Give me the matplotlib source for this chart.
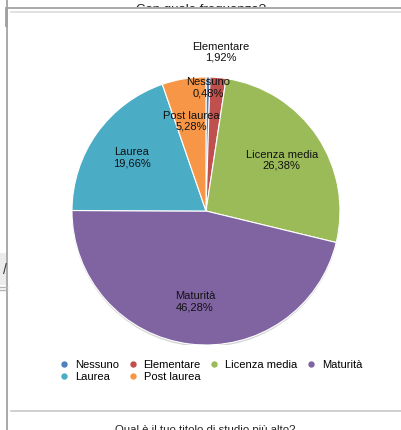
import numpy as np
import matplotlib
matplotlib.use("Agg")
import matplotlib.pyplot as plt
from matplotlib.lines import Line2D
from matplotlib.patches import Rectangle, Circle

categorie = ["Nessuno", "Elementare", "Licenza media", "Maturità", "Laurea", "Post laurea"]
percentuali = [0.48, 1.92, 26.38, 46.28, 19.66, 5.28]
colori = ["#4F81BD", "#C0504D", "#9BBB59", "#8064A2", "#4BACC6", "#F79646"]
# distanza delle etichette dal centro (frazione del raggio)
dist_etichette = [0.92, 1.19, 0.68, 0.68, 0.68, 0.68]

titolo_sopra = "Con quale frequenza?"
titolo_sotto = "Qual è il tuo titolo di studio più alto?"

plt.rcParams["font.family"] = ["Liberation Sans", "DejaVu Sans"]

W, H = 401, 430
fig = plt.figure(figsize=(W / 100, H / 100), dpi=100)
fig.patch.set_facecolor("white")

# sfondo della pagina in coordinate pixel
bg = fig.add_axes([0, 0, 1, 1])
bg.set_xlim(0, W)
bg.set_ylim(H, 0)
bg.axis("off")

bg.text(201, 12.5, titolo_sopra, ha="center", va="baseline", fontsize=9.5, color="#222222", zorder=1)
bg.add_patch(Rectangle((7, 8), W, H, facecolor="white", edgecolor="none", zorder=2))
bg.plot([7, W], [8, 8], color="#a9a9a9", lw=1.4, zorder=3)
bg.plot([11, W], [12, 12], color="#dcdcdc", lw=1.2, zorder=3)
bg.plot([7, 7], [0, H], color="#a9a9a9", lw=1.4, zorder=3)
bg.plot([6.3, 6.3], [8, 25], color="#a0a0a0", lw=2, zorder=3)
bg.plot([11, W], [411, 411], color="#c8c8c8", lw=1.2, zorder=3)
bg.text(205, 433, titolo_sotto, ha="center", va="baseline", fontsize=8.2, color="#222222", zorder=3)

# pannello laterale tagliato a sinistra
bg.add_patch(Rectangle((0, 253), 6.3, 32, facecolor="#ececec", edgecolor="none", zorder=3))
bg.text(5.2, 270, "/", ha="center", va="center", fontsize=10, color="#333333", zorder=3)
bg.plot([0, 7], [287, 287], color="#b5b5b5", lw=1, zorder=3)
bg.plot([0, 7], [290, 290], color="#b5b5b5", lw=1, zorder=3)

# grafico a torta
cx, cy, r = 206, 211, 134
ax = fig.add_axes([(cx - r) / W, (H - cy - r) / H, 2 * r / W, 2 * r / H])
ax.add_patch(Circle((0.0, -0.014), 1.0, facecolor="#d4d4d4", edgecolor="none", zorder=0))
wedges, _ = ax.pie(percentuali, colors=colori, startangle=90, counterclock=False,
                   wedgeprops=dict(edgecolor="white", linewidth=0.8))
ax.set_xlim(-1, 1)
ax.set_ylim(-1, 1)
ax.set_aspect("equal")
ax.axis("off")

for w, nome, val, d in zip(wedges, categorie, percentuali, dist_etichette):
    ang = np.deg2rad((w.theta1 + w.theta2) / 2)
    testo = f"{nome}\n{val:.2f}%".replace(".", ",")
    ax.text(d * np.cos(ang), d * np.sin(ang), testo, ha="center", va="center",
            fontsize=8, color="#111111", linespacing=1.15, zorder=5)

# legenda: ordine scelto per riempire le righe da sinistra a destra
ordine = [0, 4, 1, 5, 2, 3]
handles = [Line2D([], [], marker="o", ls="none", markersize=4.6,
                  markerfacecolor=colori[i], markeredgecolor="none") for i in ordine]
labels = [categorie[i] for i in ordine]
bg.legend(handles, labels, ncol=4, loc="center", bbox_to_anchor=(211, 371),
          bbox_transform=bg.transData, frameon=False, fontsize=8,
          handlelength=0.8, handletextpad=0.6, columnspacing=0.8,
          labelspacing=0.2, borderpad=0, borderaxespad=0)

fig.savefig("out.png", dpi=100, facecolor="white")
